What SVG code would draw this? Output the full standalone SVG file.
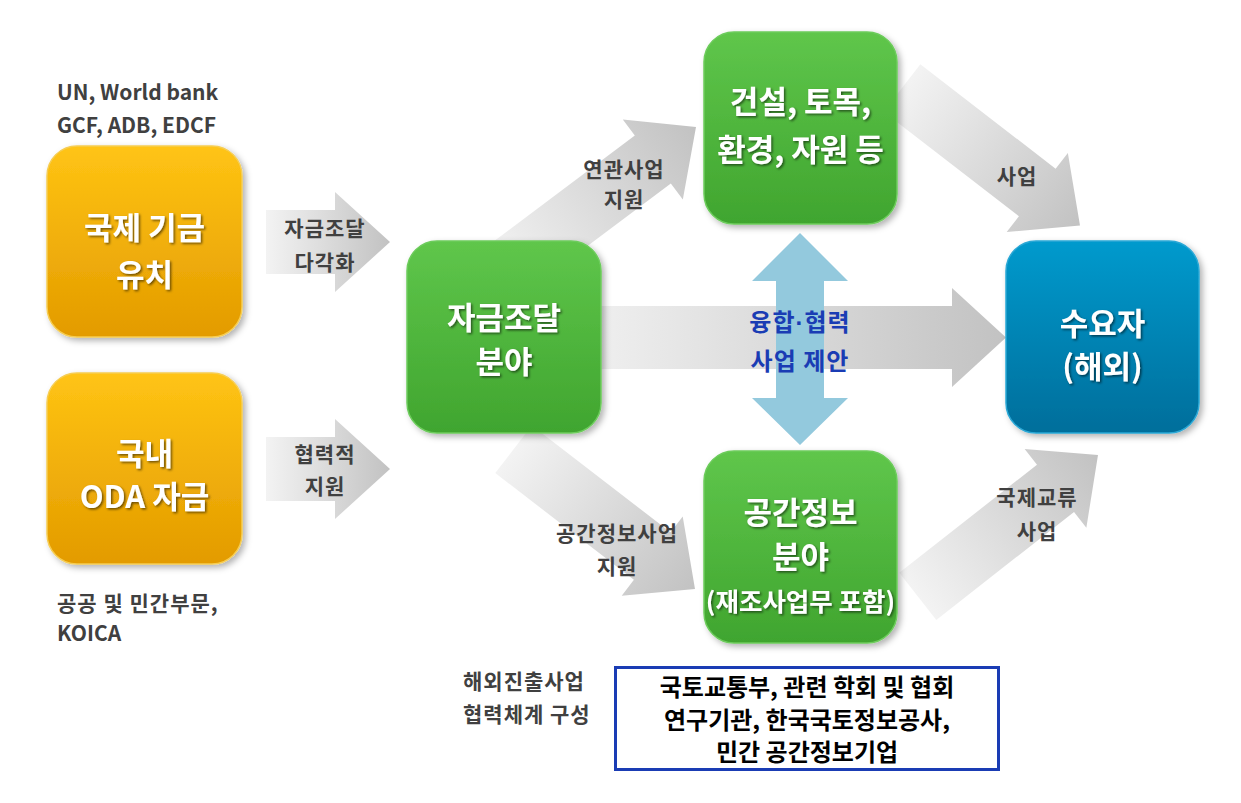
<svg xmlns="http://www.w3.org/2000/svg" width="1241" height="803" viewBox="0 0 1241 803">
<defs>
<linearGradient id="gArrow" x1="0" y1="0" x2="1" y2="0">
<stop offset="0" stop-color="#f3f3f3"/>
<stop offset="1" stop-color="#c2c2c2"/>
</linearGradient>
<linearGradient id="gOrange" x1="0" y1="0" x2="0" y2="1">
<stop offset="0" stop-color="#ffc414"/>
<stop offset="1" stop-color="#e39b00"/>
</linearGradient>
<linearGradient id="gGreen" x1="0" y1="0" x2="0" y2="1">
<stop offset="0" stop-color="#5fc64b"/>
<stop offset="1" stop-color="#40a52f"/>
</linearGradient>
<linearGradient id="gBlue" x1="0" y1="0" x2="0" y2="1">
<stop offset="0" stop-color="#049acd"/>
<stop offset="1" stop-color="#016e9b"/>
</linearGradient>
<filter id="shadow" x="-20%" y="-20%" width="140%" height="140%">
<feDropShadow dx="3" dy="3" stdDeviation="3" flood-color="#000" flood-opacity="0.3"/>
</filter>
<filter id="tshadow" x="-10%" y="-30%" width="120%" height="160%">
<feDropShadow dx="1.5" dy="1.5" stdDeviation="1.2" flood-color="#000" flood-opacity="0.55"/>
</filter>
</defs>
<style>
text { font-family: "Noto Sans CJK KR", "Malgun Gothic", sans-serif; font-weight: bold; }
.node { filter: url(#shadow); }
.orange { fill: url(#gOrange); stroke: #f6cd52; stroke-width: 1.5; }
.green { fill: url(#gGreen); stroke: #6dcc5c; stroke-width: 1.5; }
.blue { fill: url(#gBlue); stroke: #2aa8d6; stroke-width: 1.5; }
.ntext { fill: #ffffff; font-size: 31px; text-anchor: middle; filter: url(#tshadow); }
.nsub { fill: #ffffff; font-size: 25.5px; text-anchor: middle; filter: url(#tshadow); }
.lbl { fill: #404040; font-size: 21px; letter-spacing: 1px; text-anchor: middle; }
.lbls { fill: #404040; font-size: 21px; }
.kls { fill: #404040; font-size: 21px; letter-spacing: 1px; }
.blbl { fill: #1a3cb4; font-size: 24px; letter-spacing: 1px; text-anchor: middle; }
.dot { font-family: "Liberation Sans", sans-serif; }
.btext { fill: #000000; font-size: 24px; text-anchor: middle; }
.arr { fill: url(#gArrow); }
</style>

<g id="connectors">
<path class="arr" d="M266,210 L335,210 L335,192 L390,242 L335,292 L335,274 L266,274 Z"/>
<path class="arr" d="M266,437 L335,437 L335,419 L390,469 L335,519 L335,501 L266,501 Z"/>
<path class="arr" d="M560,306 L952,306 L952,288 L1006,337.5 L952,387 L952,369 L560,369 Z"/>
<path class="arr" transform="translate(696,127) rotate(-36.9) translate(-245,0)" d="M0,-30 L191,-30 L191,-50 L245,0 L191,50 L191,30 L0,30 Z"/>
<path class="arr" transform="translate(695,589) rotate(37.6) translate(-229,0)" d="M0,-30 L175,-30 L175,-50 L229,0 L175,50 L175,30 L0,30 Z"/>
<path class="arr" transform="translate(1080,225.5) rotate(37.7) translate(-225,0)" d="M0,-30 L171,-30 L171,-50 L225,0 L171,50 L171,30 L0,30 Z"/>
<path class="arr" transform="translate(1098,455) rotate(-38.1) translate(-229,0)" d="M0,-30 L175,-30 L175,-50 L229,0 L175,50 L175,30 L0,30 Z"/>
</g>

<g id="node-intl">
<rect class="node orange" x="47" y="146" width="195" height="191" rx="30"/>
<text class="ntext" x="144.5" y="239">국제 기금</text>
<text class="ntext" x="144.5" y="286">유치</text>
</g>
<g id="node-oda">
<rect class="node orange" x="47" y="373" width="195" height="191" rx="30"/>
<text class="ntext" x="144.5" y="465">국내</text>
<text class="ntext" x="144.5" y="508">ODA 자금</text>
</g>
<g id="node-finance">
<rect class="node green" x="407" y="241" width="194" height="192" rx="30"/>
<text class="ntext" x="504" y="329">자금조달</text>
<text class="ntext" x="504" y="373">분야</text>
</g>
<g id="node-construction">
<rect class="node green" x="704" y="32" width="193" height="192" rx="30"/>
<text class="ntext" x="800.5" y="113">건설, 토목,</text>
<text class="ntext" x="800.5" y="161">환경, 자원 등</text>
</g>
<g id="node-spatial">
<rect class="node green" x="704" y="451" width="193" height="192" rx="30"/>
<text class="ntext" x="800.5" y="524">공간정보</text>
<text class="ntext" x="800.5" y="568">분야</text>
<text class="nsub" x="800.5" y="611">(재조사업무 포함)</text>
</g>
<g id="node-demand">
<rect class="node blue" x="1006" y="241" width="193" height="192" rx="30"/>
<text class="ntext" x="1102.5" y="335">수요자</text>
<text class="ntext" x="1102.5" y="378">(해외)</text>
</g>

<g id="node-convergence">
<path fill="#93c9dd" d="M800,233 L848,281 L824,281 L824,398 L848,398 L800,445 L752,398 L776,398 L776,281 L752,281 Z"/>
<text class="blbl" x="800" y="331">융합<tspan class="dot">·</tspan>협력</text>
<text class="blbl" x="800" y="370">사업 제안</text>
</g>

<g id="labels">
<text class="lbls" x="57" y="100">UN, World bank</text>
<text class="lbls" x="57" y="133">GCF, ADB, EDCF</text>
<text class="kls" x="57" y="611">공공 및 민간부문,</text>
<text class="lbls" x="57" y="641">KOICA</text>
<text class="lbl" x="325" y="236">자금조달</text>
<text class="lbl" x="325" y="270">다각화</text>
<text class="lbl" x="325" y="462">협력적</text>
<text class="lbl" x="325" y="494">지원</text>
<text class="lbl" x="624" y="177">연관사업</text>
<text class="lbl" x="624" y="207">지원</text>
<text class="lbl" x="1017" y="184">사업</text>
<text class="lbl" x="617" y="541">공간정보사업</text>
<text class="lbl" x="617" y="574">지원</text>
<text class="lbl" x="1037" y="505">국제교류</text>
<text class="lbl" x="1037" y="539">사업</text>
<text class="kls" x="463" y="689">해외진출사업</text>
<text class="kls" x="463" y="722">협력체계 구성</text>
</g>

<g id="node-partners">
<rect x="615.5" y="667.5" width="383" height="102" fill="#ffffff" stroke="#1a3cb4" stroke-width="3"/>
<text class="btext" x="807" y="696">국토교통부, 관련 학회 및 협회</text>
<text class="btext" x="807" y="729">연구기관, 한국국토정보공사,</text>
<text class="btext" x="807" y="761">민간 공간정보기업</text>
</g>
</svg>
